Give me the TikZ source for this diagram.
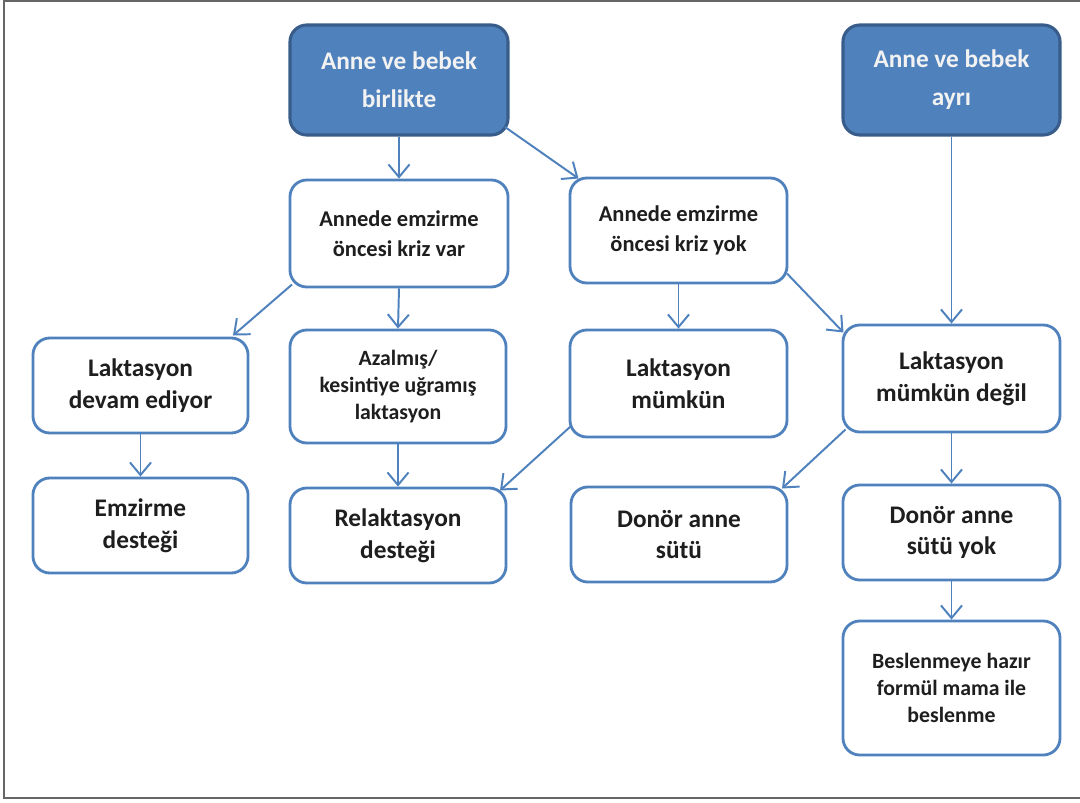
\documentclass[tikz,border=0pt]{standalone}
\usepackage{fontspec}
\setmainfont{Carlito}
\usetikzlibrary{arrows.meta,calc,shadows}
\definecolor{bblue}{HTML}{4F81BD}
\definecolor{dblue}{HTML}{385D8A}
\definecolor{txt}{HTML}{1E1E1E}
\definecolor{ttxt}{HTML}{F2F2F2}
\tikzset{
  box/.style={draw=bblue, line width=2pt, rounded corners=12pt, fill=white,
    align=center, text=txt, font=\bfseries},
  topbox/.style={draw=dblue, line width=2.2pt, rounded corners=12pt, fill=bblue,
    align=center, text=ttxt, font=\bfseries\fontsize{18}{27}\selectfont,
    drop shadow={shadow xshift=0.6pt, shadow yshift=-0.8pt, opacity=0.35}},
  fbig/.style={font=\bfseries\fontsize{18}{22.5}\selectfont},
  fmid/.style={font=\bfseries\fontsize{16}{21}\selectfont},
  fsmall/.style={font=\bfseries\fontsize{15.5}{19.5}\selectfont},
  conn/.style={draw=bblue, line width=1.4pt, -{Straight Barb[length=9pt,width=15pt,line width=1.4pt]}},
}
\begin{document}
\begin{tikzpicture}[x=0.025cm,y=-0.025cm]
\useasboundingbox (0,0) rectangle (1080,803);
\draw[gray!80!black, line width=1.2pt] (1080,1) -- (4,1) -- (4,798) -- (1080,798);

\node[topbox, minimum width=5.45cm, minimum height=2.75cm] (A) at (399,80) {Anne ve bebek\\birlikte};
\node[topbox, minimum width=5.425cm, minimum height=2.75cm] (B) at (951.5,80) {Anne ve bebek\\ayrı};

\node[box, fmid, minimum width=5.45cm, minimum height=2.675cm] (C) at (399,233.5) {Annede emzirme\\öncesi kriz var};
\node[box, fmid, minimum width=5.425cm, minimum height=2.625cm] (D) at (678.5,230.5) {Annede emzirme\\öncesi kriz yok};

\node[box, fbig, minimum width=5.375cm, minimum height=2.375cm] (E) at (140.5,385.5) {Laktasyon\\devam ediyor};
\node[box, fsmall, minimum width=5.4cm, minimum height=2.825cm] (F) at (398,386.5) {Azalmış/\\kesintiye uğramış\\laktasyon};
\node[box, fbig, minimum width=5.425cm, minimum height=2.675cm] (G) at (678.5,383.5) {Laktasyon\\mümkün};
\node[box, fbig, minimum width=5.425cm, minimum height=2.675cm] (H) at (951.5,378.5) {Laktasyon\\mümkün değil};

\node[box, fbig, minimum width=5.375cm, minimum height=2.375cm] (I) at (140.5,525.5) {Emzirme\\desteği};
\node[box, fbig, minimum width=5.4cm, minimum height=2.375cm] (J) at (398,535.5) {Relaktasyon\\desteği};
\node[box, fbig, minimum width=5.4cm, minimum height=2.375cm] (K) at (679,534.5) {Donör anne\\sütü};
\node[box, fbig, minimum width=5.425cm, minimum height=2.375cm] (L) at (951.5,532.5) {Donör anne\\sütü yok};
\node[box, fsmall, minimum width=5.425cm, minimum height=3.35cm] (M) at (951.5,688) {Beslenmeye hazır\\formül mama ile\\beslenme};

\draw[conn] (A.south) -- (C.north);
\draw[conn] ($(A.center)+(106,47)$) -- ($(D.center)+(-100,-52)$);
\draw[conn] (B.south) -- (H.north);
\draw[conn] ($(C.center)+(-107,51)$) -- ($(E.center)+(92.5,-50)$);
\draw[conn] (C.south) -- (F.north);
\draw[conn] (D.south) -- (G.north);
\draw[conn] ($(D.center)+(108.5,43)$) -- ($(H.center)+(-108,-46)$);
\draw[conn] (E.south) -- (I.north);
\draw[conn] (F.south) -- (J.north);
\draw[conn] ($(G.center)+(-108,43)$) -- ($(J.center)+(102,-45)$);
\draw[conn] ($(H.center)+(-106,51)$) -- ($(K.center)+(103,-46)$);
\draw[conn] (H.south) -- (L.north);
\draw[conn] (L.south) -- (M.north);
\end{tikzpicture}
\end{document}
